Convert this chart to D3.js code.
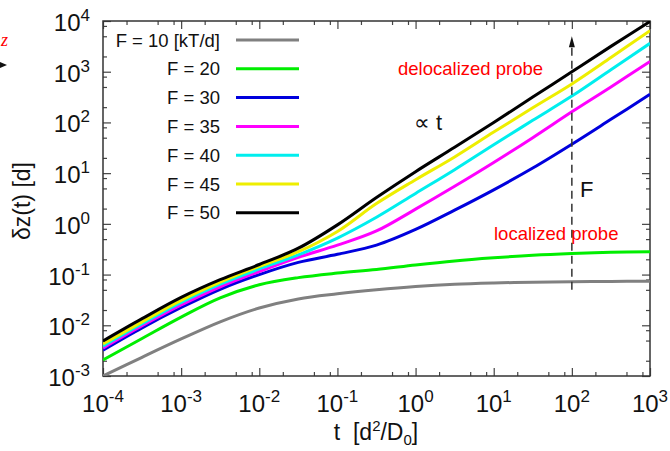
<!DOCTYPE html>
<html><head><meta charset="utf-8">
<script src="https://cdn.jsdelivr.net/npm/d3@7"></script>
<style>body{margin:0;background:#fff}svg{display:block;font-family:"Liberation Sans",Arial,sans-serif}</style>
</head><body><svg id="c" width="670" height="451"></svg>
<script>
// ---- data ----
const times = [1e-4, 3.16e-4, 1e-3, 3.16e-3, 1e-2, 3.16e-2, 0.1, 0.316, 1, 3.16, 10, 31.6, 100, 316, 1000];
const seriesNames = ["F = 10 [kT/d]", "F = 20", "F = 30", "F = 35", "F = 40", "F = 45", "F = 50"];
const seriesColors = ["#808080", "#00ee00", "#0000dd", "#ff00ff", "#00eeee", "#eeee00", "#000000"];
const f10 = [0.00100, 0.00234, 0.00537, 0.0117, 0.0219, 0.0331, 0.0417, 0.0501, 0.0582, 0.0646, 0.0684, 0.0708, 0.0724, 0.0733, 0.0741];
const f20 = [0.00207, 0.00550, 0.0145, 0.0347, 0.0631, 0.0871, 0.107, 0.126, 0.155, 0.186, 0.214, 0.240, 0.260, 0.275, 0.282];
const f30 = [0.00324, 0.00891, 0.0224, 0.0513, 0.100, 0.174, 0.251, 0.380, 0.776, 1.86, 4.68, 12.6, 37.2, 115, 359];
const f35 = [0.00355, 0.00977, 0.0251, 0.0575, 0.115, 0.219, 0.380, 0.724, 1.95, 5.50, 16.2, 50.1, 162, 501, 1585];
const f40 = [0.00389, 0.0107, 0.0282, 0.0646, 0.129, 0.245, 0.525, 1.35, 3.98, 11.7, 36.3, 110, 331, 1096, 3630];
const f45 = [0.00427, 0.0117, 0.0309, 0.0708, 0.145, 0.282, 0.708, 2.51, 7.41, 20.9, 64.6, 195, 575, 1905, 6460];
const f50 = [0.00490, 0.0135, 0.0355, 0.0794, 0.158, 0.331, 0.955, 3.31, 10.7, 32.4, 100, 316, 1000, 3160, 9770];
const seriesValues = [f10, f20, f30, f35, f40, f45, f50];
const xMajor = [1e-4, 1e-3, 1e-2, 1e-1, 1, 10, 100, 1000];
const xMajorExp = ["-4", "-3", "-2", "-1", "0", "1", "2", "3"];
const yMajor = [1e-3, 1e-2, 1e-1, 1, 10, 100, 1000, 10000];
const yMajorExp = ["-3", "-2", "-1", "0", "1", "2", "3", "4"];
const minorMult = [2, 5, 8];
const arrowT = 100, arrowFrom = 0.05, arrowTo = 5000;

// ---- layout ----
const L = 103, R = 650, T = 21, B = 376;
const svg = d3.select("#c");
const x = d3.scaleLog().domain([1e-4, 1e3]).range([L, R]);
const y = d3.scaleLog().domain([1e-3, 1e4]).range([B, T]);

const minorX = [], minorY = [];
xMajor.slice(0, -1).forEach(d => minorMult.forEach(m => minorX.push(d * m)));
yMajor.slice(0, -1).forEach(d => minorMult.forEach(m => minorY.push(d * m)));

function axisG(axis, tx, ty) {
  const g = svg.append("g").attr("transform", `translate(${tx},${ty})`).call(axis);
  g.select(".domain").remove();
  g.selectAll("text").remove();
  g.selectAll("line").attr("stroke", "#444").attr("stroke-width", 1.2);
  return g;
}
// inward ticks on all four sides
axisG(d3.axisBottom(x).tickValues(xMajor).tickSize(-8), 0, B);
axisG(d3.axisBottom(x).tickValues(minorX).tickSize(-4), 0, B);
axisG(d3.axisTop(x).tickValues(xMajor).tickSize(-8), 0, T);
axisG(d3.axisTop(x).tickValues(minorX).tickSize(-4), 0, T);
axisG(d3.axisLeft(y).tickValues(yMajor).tickSize(-8), L, 0);
axisG(d3.axisLeft(y).tickValues(minorY).tickSize(-4), L, 0);
axisG(d3.axisRight(y).tickValues(yMajor).tickSize(-8), R, 0);
axisG(d3.axisRight(y).tickValues(minorY).tickSize(-4), R, 0);

svg.append("rect").attr("x", L).attr("y", T).attr("width", R - L).attr("height", B - T)
  .attr("fill", "none").attr("stroke", "#333").attr("stroke-width", 1.5);

// tick labels
xMajor.forEach((v, i) => {
  const t = svg.append("text").attr("x", x(v)).attr("y", 412).attr("text-anchor", "middle")
    .attr("font-size", 24).attr("fill", "#111");
  t.append("tspan").text("10");
  t.append("tspan").attr("dy", -10).attr("font-size", 17).text(xMajorExp[i]);
});
yMajor.forEach((v, i) => {
  const t = svg.append("text").attr("x", 90).attr("y", y(v) + 10).attr("text-anchor", "end")
    .attr("font-size", 24).attr("fill", "#111");
  t.append("tspan").text("10");
  t.append("tspan").attr("dy", -10).attr("font-size", 17).text(yMajorExp[i]);
});

// axis titles
const xt = svg.append("text").attr("x", 376).attr("y", 440).attr("text-anchor", "middle")
  .attr("font-size", 23).attr("fill", "#111");
xt.append("tspan").text("t\u00a0\u00a0[d");
xt.append("tspan").attr("dy", -9).attr("font-size", 15).text("2");
xt.append("tspan").attr("dy", 9).text("/D");
xt.append("tspan").attr("dy", 5).attr("font-size", 15).text("0");
xt.append("tspan").attr("dy", -5).text("]");
svg.append("text").attr("transform", "translate(30,201) rotate(-90)").attr("text-anchor", "middle")
  .attr("font-size", 23).attr("fill", "#111").text("δz(t) [d]");

// clipped curves
svg.append("clipPath").attr("id", "clip").append("rect")
  .attr("x", L).attr("y", T).attr("width", R - L).attr("height", B - T);
const line = d3.line().x((d, i) => x(times[i])).y(d => y(d)).curve(d3.curveCatmullRom.alpha(0.5));
const plot = svg.append("g").attr("clip-path", "url(#clip)");
seriesValues.forEach((vals, i) => {
  plot.append("path").attr("d", line(vals)).attr("fill", "none")
    .attr("stroke", seriesColors[i]).attr("stroke-width", 3);
});

// dashed arrow F
svg.append("line").attr("x1", x(arrowT)).attr("x2", x(arrowT)).attr("y1", y(arrowFrom)).attr("y2", y(arrowTo) + 8)
  .attr("stroke", "#333").attr("stroke-width", 1.5).attr("stroke-dasharray", "8,5");
const ax = x(arrowT), ay = y(arrowTo);
svg.append("path").attr("d", `M${ax},${ay} L${ax - 3},${ay + 11} L${ax + 3},${ay + 11} Z`).attr("fill", "#111");
svg.append("text").attr("x", 580).attr("y", 197).attr("font-size", 22).attr("fill", "#111").text("F");

// annotations
svg.append("text").attr("x", 398).attr("y", 75).attr("font-size", 18.5).attr("fill", "#ff0000").text("delocalized probe");
svg.append("text").attr("x", 494).attr("y", 240).attr("font-size", 18.5).attr("fill", "#ff0000").text("localized probe");
svg.append("text").attr("x", 414).attr("y", 130).attr("font-size", 22).attr("fill", "#111").text("∝ t");

// legend
const legY0 = 40, legDy = 28.8;
seriesNames.forEach((n, i) => {
  const yy = legY0 + i * legDy;
  svg.append("text").attr("x", 220).attr("y", yy + 6.5).attr("text-anchor", "end")
    .attr("font-size", 18.5).attr("fill", "#111").text(n);
  svg.append("line").attr("x1", 236).attr("x2", 299).attr("y1", yy).attr("y2", yy)
    .attr("stroke", seriesColors[i]).attr("stroke-width", 3);
});

// fragments at the left edge
svg.append("text").attr("x", 1).attr("y", 46).attr("font-size", 18).attr("font-style", "italic")
  .attr("font-family", "Liberation Serif, serif").attr("fill", "#ff0000").text("z");
svg.append("path").attr("d", "M0,62 L7,65 L0,68 Z").attr("fill", "#111");
</script></body></html>
